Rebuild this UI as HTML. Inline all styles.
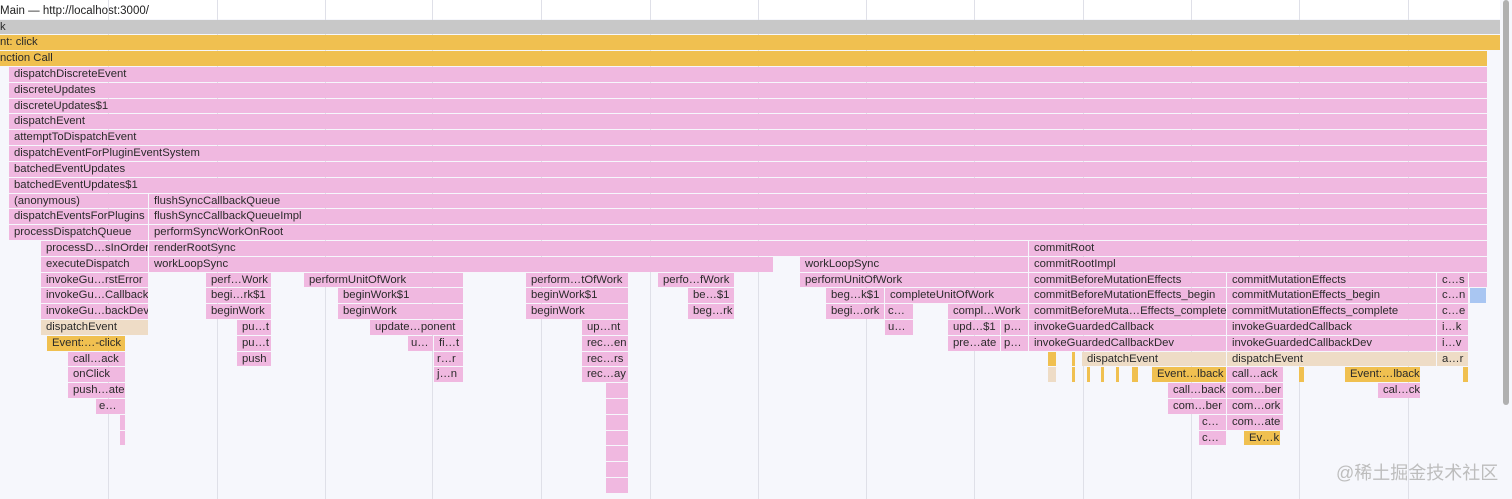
<!DOCTYPE html>
<html><head><meta charset="utf-8">
<style>
html,body{margin:0;padding:0;}
body{width:1512px;height:499px;overflow:hidden;background:#f6f7fc;position:relative;font-family:"Liberation Sans","Noto Sans CJK SC",sans-serif;}
#hdr{position:absolute;left:0;top:0;width:1500px;height:19px;background:#fff;font-size:11.5px;line-height:22px;color:#222;}
.grid{position:absolute;top:0;width:1px;height:499px;background:#dfe0e8;}
.bar{position:absolute;height:15px;font-size:11.3px;line-height:15px;color:#2a2a2a;white-space:nowrap;overflow:hidden;box-sizing:border-box;padding-left:5px;}
#wm{position:absolute;left:1336px;top:459px;font-size:18px;color:#bdbdbd;}
#sb{position:absolute;left:1503px;top:0;width:6px;height:405px;background:#b0b0b0;border-radius:3px;}
</style></head><body>
<div id="hdr">Main — http://localhost:3000/</div>
<div id="chart"></div>
<div id="sb"></div>
<div id="wm">@稀土掘金技术社区</div>
<script>
const gridXs=[108,217,325,432,541,650,758,866,974,1083,1191,1299,1408];
const rowTops=19.6, rowPitch=15.81;
const colors={p:"#f0b8e0",g:"#f0c050",y:"#c8c8c8",t:"#eedcc6",b:"#a9c6f2"};
// frames: row, start, end, label, color
const frameRows=[0,1,2,3,4,5,6,7,8,9,10,11,11,12,12,13,13,
14,14,14,15,15,15,15,
16,16,16,16,16,16,16,16,16,16,
17,17,17,17,17,17,17,17,17,17,17,
18,18,18,18,18,18,18,18,18,18,18,
19,19,19,19,19,19,19,19,19,19,
20,20,20,20,20,20,20,20,20,20,
21,21,21,21,21,21,21,21,21,
22,22,22,22,22,22,22,22,22,22,22,22,22,22,
23,23,23,23,23,24,24,24,24,25,25,25,25,26,26,26,26,27,28,29];
const frameStart=[0,0,0,9,9,9,9,9,9,9,9,9,149,9,149,9,149,
41,149,1029,41,149,800,1029,
41,206,304,526,658,800,1029,1227,1437,1469,
41,206,338,526,688,826,885,1029,1227,1437,1470,
41,206,338,526,688,826,885,948,1029,1227,1437,
41,237,370,582,885,948,1001,1029,1227,1437,
47,237,408,434,582,948,1001,1029,1227,1437,
68,237,434,582,1048,1072,1082,1227,1437,
68,434,582,1048,1072,1087,1101,1116,1132,1152,1227,1299,1345,1463,
68,606,1168,1227,1378,96,606,1168,1227,120,606,1199,1227,120,606,1199,1244,606,606,606];
const frameEnd=[1500,1500,1487,1487,1487,1487,1487,1487,1487,1487,1487,148,1487,148,1487,148,1487,
148,1028,1487,148,773,1028,1487,
148,271,463,628,734,1028,1226,1436,1468,1487,
148,271,463,628,734,884,1028,1226,1436,1468,1486,
148,271,463,628,734,884,913,1028,1226,1436,1468,
148,271,463,628,913,1000,1028,1226,1436,1468,
125,271,433,463,628,1000,1028,1226,1436,1468,
125,271,463,628,1056,1075,1226,1436,1468,
125,463,628,1056,1075,1090,1104,1119,1138,1226,1283,1304,1420,1468,
125,628,1226,1283,1420,125,628,1226,1283,125,628,1226,1283,125,628,1226,1280,628,628,628];
const frameLabels=["k","nt: click","nction Call","dispatchDiscreteEvent","discreteUpdates","discreteUpdates$1","dispatchEvent","attemptToDispatchEvent","dispatchEventForPluginEventSystem","batchedEventUpdates","batchedEventUpdates$1","(anonymous)","flushSyncCallbackQueue","dispatchEventsForPlugins","flushSyncCallbackQueueImpl","processDispatchQueue","performSyncWorkOnRoot",
"processD…sInOrder","renderRootSync","commitRoot","executeDispatch","workLoopSync","workLoopSync","commitRootImpl",
"invokeGu…rstError","perf…Work","performUnitOfWork","perform…tOfWork","perfo…fWork","performUnitOfWork","commitBeforeMutationEffects","commitMutationEffects","c…s","",
"invokeGu…Callback","begi…rk$1","beginWork$1","beginWork$1","be…$1","beg…k$1","completeUnitOfWork","commitBeforeMutationEffects_begin","commitMutationEffects_begin","c…n","",
"invokeGu…backDev","beginWork","beginWork","beginWork","beg…rk","begi…ork","c…","compl…Work","commitBeforeMuta…Effects_complete","commitMutationEffects_complete","c…e",
"dispatchEvent","pu…t","update…ponent","up…nt","u…","upd…$1","p…","invokeGuardedCallback","invokeGuardedCallback","i…k",
"Event:…-click","pu…t","u…","fi…t","rec…en","pre…ate","p…","invokeGuardedCallbackDev","invokeGuardedCallbackDev","i…v",
"call…ack","push","r…r","rec…rs","","","dispatchEvent","dispatchEvent","a…r",
"onClick","j…n","rec…ay","","","","","","","Event…lback","call…ack","","Event:…lback","",
"push…ate","","call…back","com…ber","cal…ck","e…","","com…ber","com…ork","","","c…","com…ate","","","c…","Ev…k","","",""];
const frameColors=["y","g","g","p","p","p","p","p","p","p","p","p","p","p","p","p","p",
"p","p","p","p","p","p","p",
"p","p","p","p","p","p","p","p","p","p",
"p","p","p","p","p","p","p","p","p","p","b",
"p","p","p","p","p","p","p","p","p","p","p",
"t","p","p","p","p","p","p","p","p","p",
"g","p","p","p","p","p","p","p","p","p",
"p","p","p","p","g","g","t","t","t",
"p","p","p","t","g","g","g","g","g","g","p","g","g","g",
"p","p","p","p","p","p","p","p","p","p","p","p","p","p","p","p","g","p","p","p"];
const chart=document.getElementById('chart');
gridXs.forEach(function(x){
  const g=document.createElement('div');
  g.className='grid';
  g.style.left=x+'px';
  
  
  chart.appendChild(g);
});
for(let i=0;i<frameRows.length;i++){
  const d=document.createElement('div');
  d.className='bar';
  const x=frameStart[i], w=frameEnd[i]-frameStart[i];
  const top=Math.round(rowTops+frameRows[i]*rowPitch);
  const nextTop=Math.round(rowTops+(frameRows[i]+1)*rowPitch);
  d.style.left=x+'px';
  d.style.top=top+'px';
  d.style.height=(nextTop-top-1)+'px';
  d.style.lineHeight=(nextTop-top-1)+'px';
  d.style.width=Math.max(w,2)+'px';
  d.style.background=colors[frameColors[i]];
  if(x===0){d.style.paddingLeft='0px';}
  if(w<30 && frameLabels[i].length<4){d.style.paddingLeft='3px';}
  d.textContent=frameLabels[i];
  
  
  chart.appendChild(d);
}
</script>
</body></html>
